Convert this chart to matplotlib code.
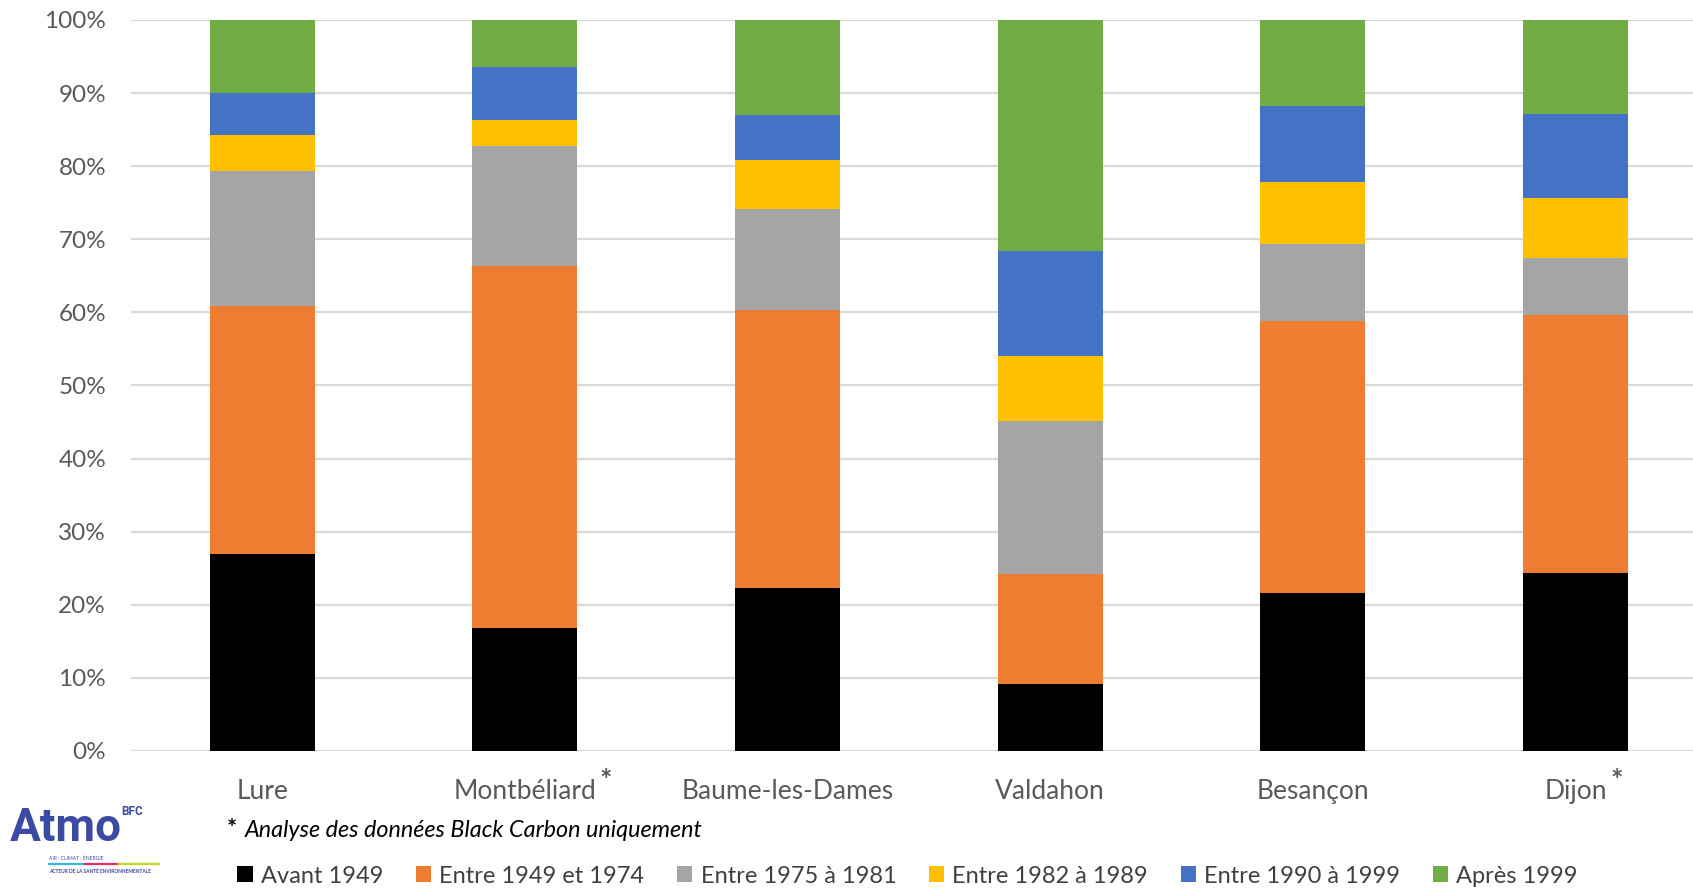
import numpy as np
import matplotlib.pyplot as plt
from matplotlib.patches import Patch
from matplotlib.ticker import PercentFormatter

plt.rcParams['font.family'] = ['Lato', 'DejaVu Sans']

villes = ['Lure', 'Montbéliard', 'Baume-les-Dames', 'Valdahon', 'Besançon', 'Dijon']
asterisque = [False, True, False, False, False, True]

periodes = ['Avant 1949', 'Entre 1949 et 1974', 'Entre 1975 à 1981',
            'Entre 1982 à 1989', 'Entre 1990 à 1999', 'Après 1999']
couleurs = ['#000000', '#ED7D31', '#A5A5A5', '#FFC000', '#4472C4', '#70AD47']

avant_1949 = [27.0, 16.8, 22.3, 9.2, 21.6, 24.4]
p1949_1974 = [33.9, 49.5, 38.0, 15.0, 37.2, 35.3]
p1975_1981 = [18.4, 16.4, 13.9, 20.9, 10.6, 7.8]
p1982_1989 = [4.9, 3.6, 6.7, 9.0, 8.4, 8.1]
p1990_1999 = [5.8, 7.2, 6.1, 14.3, 10.4, 11.5]
apres_1999 = [10.0, 6.5, 13.0, 31.6, 11.8, 12.9]

series = [avant_1949, p1949_1974, p1975_1981, p1982_1989, p1990_1999, apres_1999]

fig = plt.figure(figsize=(16.93, 8.88), dpi=100)
ax = fig.add_axes([0.0774, 0.1543, 0.9307, 0.8232])

x = np.arange(len(villes))
bas = np.zeros(len(villes))
for vals, nom, c in zip(series, periodes, couleurs):
    vals = np.array(vals)
    ax.bar(x, vals, 0.4, bottom=bas, color=c, label=nom, zorder=3)
    bas += vals

ax.set_xlim(-0.5, len(villes) - 0.5)
ax.set_ylim(0, 100)
ax.set_yticks(np.arange(0, 101, 10))
ax.yaxis.set_major_formatter(PercentFormatter(decimals=0))
ax.grid(axis='y', color='#D9D9D9', linewidth=1.6, zorder=0)
ax.set_axisbelow(True)
for s in ax.spines.values():
    s.set_visible(False)
ax.tick_params(axis='both', length=0, labelcolor='#595959')
ax.tick_params(axis='y', pad=18, labelsize=17.5)
ax.tick_params(axis='x', pad=20, labelsize=19)
ax.set_xticks(x)
ax.set_xticklabels(villes)

# astérisques sur Montbéliard et Dijon
fig.canvas.draw()
for lab, star in zip(ax.get_xticklabels(), asterisque):
    if star:
        bb = lab.get_window_extent()
        xf, yf = fig.transFigure.inverted().transform((bb.x1, bb.y1))
        fig.text(xf + 0.002, yf - 0.003, '*', fontsize=21, color='#595959',
                 ha='left', va='center', fontweight='bold')

fig.text(0.134, 0.066, '*', fontsize=17, color='#000000',
         ha='left', va='center', fontweight='bold')
fig.text(0.1447, 0.065, 'Analyse des données Black Carbon uniquement', fontsize=16.8,
         color='#000000', ha='left', va='center', style='italic')

handles = [Patch(facecolor=c, edgecolor='none') for c in couleurs]
fig.legend(handles, periodes, loc='center left', bbox_to_anchor=(0.1345, 0.0135),
           ncol=6, frameon=False, fontsize=17, labelcolor='#404040',
           handlelength=0.65, handleheight=0.65, handletextpad=0.35,
           columnspacing=1.38, borderaxespad=0)

# logo Atmo BFC
bleu = '#3B4BA3'
fig.text(0.006, 0.053, 'Atmo', fontsize=33, color=bleu, fontweight='bold',
         ha='left', va='baseline', family=['Roboto', 'DejaVu Sans'])
fig.text(0.0715, 0.086, 'BFC', fontsize=8.5, color=bleu, fontweight='bold',
         ha='left', va='center', family=['Roboto', 'DejaVu Sans'])
fig.text(0.029, 0.033, 'AIR · CLIMAT · ÉNERGIE', fontsize=3.6, color=bleu,
         ha='left', va='center')
fig.add_artist(plt.Line2D([0.029, 0.050], [0.027, 0.027], color='#3CB4E6', lw=1.6))
fig.add_artist(plt.Line2D([0.050, 0.070], [0.027, 0.027], color='#E5306B', lw=1.6))
fig.add_artist(plt.Line2D([0.070, 0.094], [0.027, 0.027], color='#C5D62A', lw=1.6))
fig.text(0.029, 0.019, 'ACTEUR DE LA SANTÉ ENVIRONNEMENTALE', fontsize=3.5,
         color=bleu, fontweight='bold', ha='left', va='center')

fig.savefig('out.png', dpi=100)
